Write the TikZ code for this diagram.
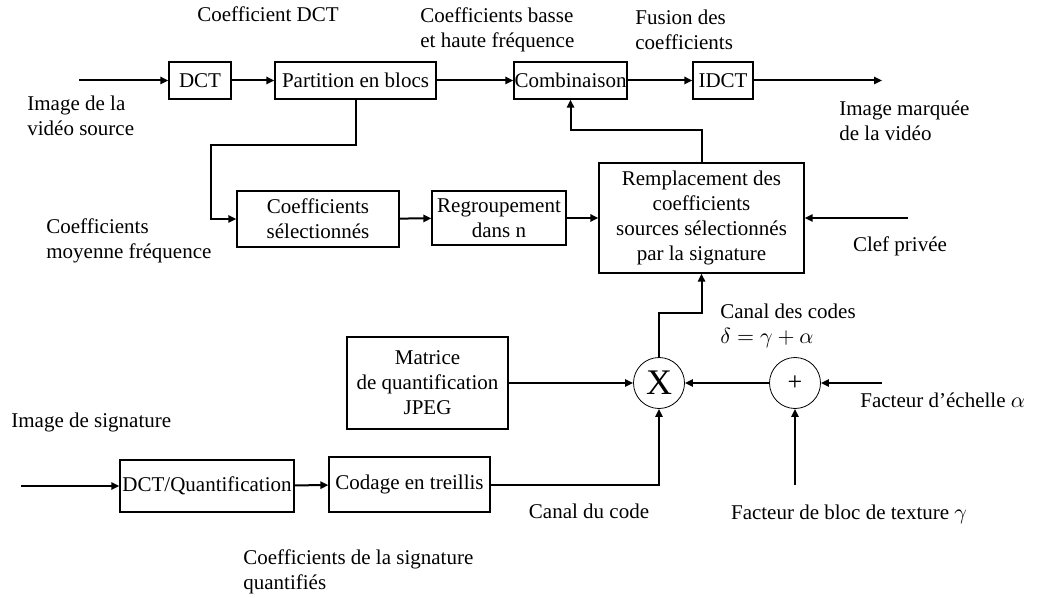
\documentclass[tikz,border=0pt]{standalone}
\usepackage{fontspec}
\setmainfont{Liberation Serif}
\usepackage{tikz}
\usetikzlibrary{arrows.meta}
\newcommand{\Taille}{\fontsize{10.5}{12.5}\selectfont}
\tikzstyle{Bloc}=[draw,line width=0.6pt,inner sep=0pt,align=center,font=\Taille]
\tikzstyle{Operateur}=[circle,draw,line width=0.4pt,inner sep=0pt,minimum size=25.5pt]
\tikzstyle{Fleche}=[line width=1pt,-{Triangle[length=4pt,width=3.6pt]}]
\tikzstyle{Legende}=[inner sep=0pt,align=left,font=\Taille]

\begin{document}
\begin{tikzpicture}[x=0.5pt,y=-0.5pt]
        \useasboundingbox (0,0) rectangle (1053,598);
        % chaine video
        \node[Bloc,minimum width=31pt,minimum height=18.5pt](dct)at(200,80.5){DCT};
        \node[Bloc,minimum width=80.5pt,minimum height=18.5pt](partition)at(355.5,80.5){Partition en blocs};
        \node[Bloc,minimum width=56.5pt,minimum height=18.5pt](comb)at(570.5,80.5){Combinaison};
        \node[Bloc,minimum width=30pt,minimum height=18.5pt](idct)at(723,80.5){IDCT};
        \node[Bloc,minimum width=81pt,minimum height=28pt](coefsel)at(318,219){Coefficients\\sélectionnés};
        \node[Bloc,minimum width=67pt,minimum height=27pt](regroup)at(499,218){Regroupement\\dans n};
        \node[Bloc,minimum width=102.5pt,minimum height=55pt](rempl)at(701.5,218){Remplacement des\\coefficients\\sources sélectionnés\\par la signature};
        % chaine signature
        \node[Bloc,minimum width=80.5pt,minimum height=46pt](matrice)at(427.5,383){Matrice\\de quantification\\JPEG};
        \node[Bloc,minimum width=87pt,minimum height=26pt](dctq)at(207,486){DCT/Quantification};
        \node[Bloc,minimum width=80.5pt,minimum height=27.5pt](codage)at(409.5,484.5){Codage en treillis};
        \node[Operateur,font=\fontsize{18}{18}\selectfont](mult)at(659,383){X};
        \node[Operateur,font=\fontsize{13}{13}\selectfont](plus)at(795,383){+};
        % extremites libres
        \coordinate(entree)at(79,80.5);
        \coordinate(sortie)at(882,80.5);
        \coordinate(clef)at(908,218);
        \coordinate(alpha)at(882,383);
        \coordinate(gamma)at(795,485);
        \coordinate(signature)at(21,486);
        \coordinate(coude)at(211,145);
        % legendes
        \node[Legende,anchor=base](lcoefdct)at(268,22){Coefficient DCT};
        \node[Legende,anchor=west](lbasse)at(420,30){Coefficients basse\\et haute fréquence};
        \node[Legende,anchor=west](lfusion)at(635,30){Fusion des\\coefficients};
        \node[Legende,anchor=west](lsource)at(27,116){Image de la\\vidéo source};
        \node[Legende,anchor=west](lmarquee)at(839,121){Image marquée\\de la vidéo};
        \node[Legende,anchor=west](lmoyenne)at(46,241){Coefficients\\moyenne fréquence};
        \node[Legende,anchor=base](lclef)at(900,252){Clef privée};
        \node[Legende,anchor=west](lcodes)at(720,326){Canal des codes\\$\delta=\gamma+\alpha$};
        \node[Legende,anchor=base west](lechelle)at(860,407){Facteur d’échelle $\alpha$};
        \node[Legende,anchor=base west](lsignature)at(11,427){Image de signature};
        \node[Legende,anchor=base](lcanal)at(589,518){Canal du code};
        \node[Legende,anchor=base](ltexture)at(849,519){Facteur de bloc de texture $\gamma$};
        \node[Legende,anchor=west](lquantif)at(243,572){Coefficients de la signature\\quantifiés};
        % connexions
        \draw[Fleche](entree)--(dct);
        \draw[Fleche](dct)--(partition);
        \draw[Fleche](partition)--(comb);
        \draw[Fleche](comb)--(idct);
        \draw[Fleche](idct)--(sortie);
        \draw[Fleche](partition.south)|-(coude)|-(coefsel.west);
        \draw[Fleche](coefsel)--(regroup);
        \draw[Fleche](regroup)--(rempl);
        \draw[Fleche](clef)--(rempl);
        \draw[Fleche](rempl.north)--++(0,-32)-|(comb.south);
        \draw[Fleche](signature)--(dctq);
        \draw[Fleche](dctq)--(codage);
        \draw[Fleche](codage.east)-|(mult.south);
        \draw[Fleche](matrice)--(mult);
        \draw[Fleche](plus)--(mult);
        \draw[Fleche](alpha)--(plus);
        \draw[Fleche](gamma)--(plus);
        \draw[Fleche](mult.north)--++(0,-44)-|(rempl.south);
    \end{tikzpicture}
\end{document}
